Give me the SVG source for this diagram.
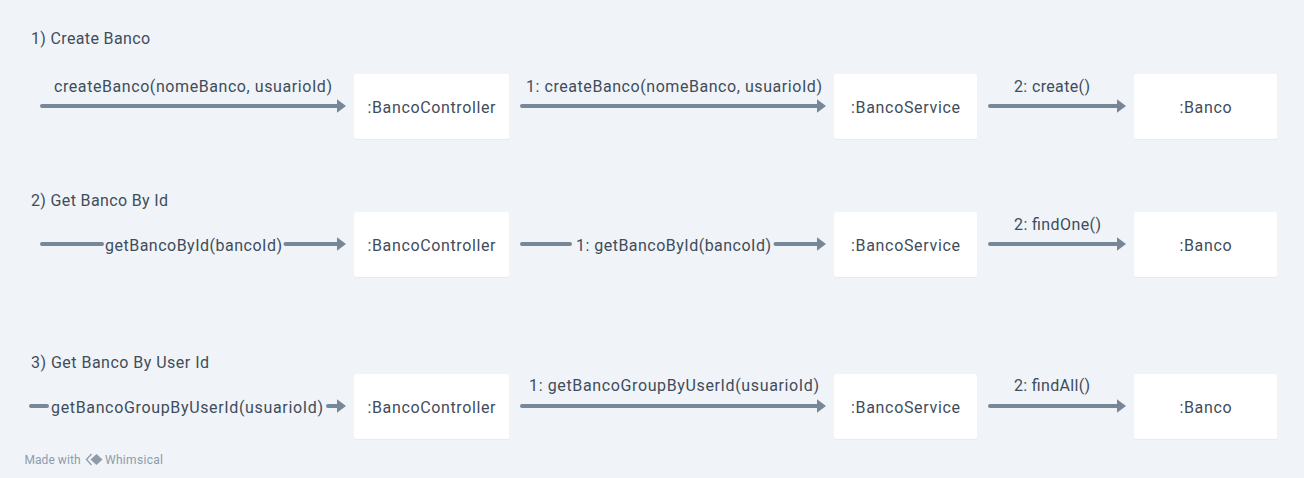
<svg xmlns="http://www.w3.org/2000/svg" width="1304" height="478" viewBox="0 0 1304 478">
<style>
text{font-family:"Roboto","Liberation Sans",sans-serif;font-size:16px;fill:#3f4c5b}
.c{text-anchor:middle}
.box{fill:#fff;stroke:none;filter:url(#s)}
.ln{stroke:#788797;stroke-width:4;fill:none;stroke-linecap:round}
.wm{font-size:12px;fill:#8f9baa}
</style>
<defs>
<filter id="s" x="-5%" y="-5%" width="110%" height="115%"><feDropShadow dx="0" dy="0.5" stdDeviation="0.7" flood-color="#8b98a6" flood-opacity="0.2"/></filter>
<marker id="a" markerUnits="userSpaceOnUse" markerWidth="12" markerHeight="16" refX="3" refY="8" orient="auto"><path d="M0 1L9.500 8L0 15Z" fill="#788797"/></marker>
</defs>
<rect width="1304" height="478" fill="#f0f4f8"/>
<g id="titles">
<text x="31" y="43.500" textLength="119">1) Create Banco</text>
<text x="31" y="205.500" textLength="137">2) Get Banco By Id</text>
<text x="31" y="367.500" textLength="178">3) Get Banco By User Id</text>
</g>
<g id="connectors">
<path class="ln" marker-end="url(#a)" d="M42 106H339.500"/>
<path class="ln" marker-end="url(#a)" d="M522 106H819.500"/>
<path class="ln" marker-end="url(#a)" d="M990 106H1119.500"/>
<path class="ln" d="M42 244H102"/><path class="ln" marker-end="url(#a)" d="M285.500 244H339.500"/>
<path class="ln" d="M522 244H570"/><path class="ln" marker-end="url(#a)" d="M775.500 244H819.500"/>
<path class="ln" marker-end="url(#a)" d="M990 244H1119.500"/>
<path class="ln" d="M31 406H47"/><path class="ln" marker-end="url(#a)" d="M328 406H339.500"/>
<path class="ln" marker-end="url(#a)" d="M522 406H819.500"/>
<path class="ln" marker-end="url(#a)" d="M990 406H1119.500"/>
<text x="54" y="91.500" textLength="278">createBanco(nomeBanco, usuarioId)</text>
<text x="526" y="91.500" textLength="296">1: createBanco(nomeBanco, usuarioId)</text>
<text x="1014" y="91.500" textLength="76">2: create()</text>
<text x="105" y="250.500" textLength="177">getBancoById(bancoId)</text>
<text x="576" y="250.500" textLength="195">1: getBancoById(bancoId)</text>
<text x="1014" y="229.500" textLength="87">2: findOne()</text>
<text x="51" y="412.500" textLength="272">getBancoGroupByUserId(usuarioId)</text>
<text x="529" y="391" textLength="290">1: getBancoGroupByUserId(usuarioId)</text>
<text x="1014" y="391" textLength="76">2: findAll()</text>
</g>
<g id="n1"><rect class="box" x="354" y="74" width="155" height="65" rx="2"/><text class="c" x="431.500" y="113" textLength="128">:BancoController</text></g>
<g id="n2"><rect class="box" x="834" y="74" width="143" height="65" rx="2"/><text class="c" x="905.500" y="113" textLength="109">:BancoService</text></g>
<g id="n3"><rect class="box" x="1134" y="74" width="143" height="65" rx="2"/><text class="c" x="1205.500" y="113" textLength="52">:Banco</text></g>
<g id="n4"><rect class="box" x="354" y="212" width="155" height="65" rx="2"/><text class="c" x="431.500" y="251" textLength="128">:BancoController</text></g>
<g id="n5"><rect class="box" x="834" y="212" width="143" height="65" rx="2"/><text class="c" x="905.500" y="251" textLength="109">:BancoService</text></g>
<g id="n6"><rect class="box" x="1134" y="212" width="143" height="65" rx="2"/><text class="c" x="1205.500" y="251" textLength="52">:Banco</text></g>
<g id="n7"><rect class="box" x="354" y="374" width="155" height="65" rx="2"/><text class="c" x="431.500" y="413" textLength="128">:BancoController</text></g>
<g id="n8"><rect class="box" x="834" y="374" width="143" height="65" rx="2"/><text class="c" x="905.500" y="413" textLength="109">:BancoService</text></g>
<g id="n9"><rect class="box" x="1134" y="374" width="143" height="65" rx="2"/><text class="c" x="1205.500" y="413" textLength="52">:Banco</text></g>
<g id="watermark">
<text class="wm" x="24.500" y="464" textLength="56">Made with</text>
<path d="M91.500 454L86.500 459.500L91.500 465" fill="none" stroke="#8f9baa" stroke-width="1.300"/>
<path d="M96.500 454L102.500 459.500L96.500 465L90.500 459.500Z" fill="#8f9baa"/>
<text class="wm" x="105" y="464" textLength="58">Whimsical</text>
</g>
</svg>
